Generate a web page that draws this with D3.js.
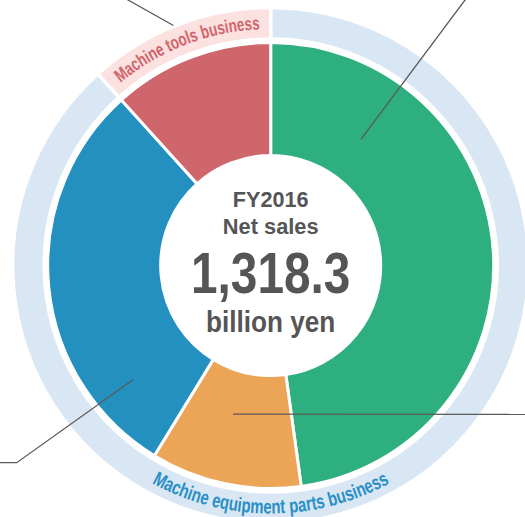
<!DOCTYPE html>
<html>
<head>
<meta charset="utf-8">
<script src="https://cdn.jsdelivr.net/npm/d3@7"></script>
<style>
  body { margin: 0; background: #fff; }
  text { font-family: "Liberation Sans Narrow", "Arial Narrow", sans-serif; font-weight: bold; }
</style>
</head>
<body>
<svg id="donut_svg"></svg>
<script>
// segments of the donut, clockwise from 12 o'clock (billion yen)
const segments = ["Steering", "Driveline", "Bearings", "Machine tools"];
const segmentValues = [630.3, 144.0, 390.0, 154.0];
const segmentColors = ["#2daf7f", "#eca557", "#2390c0", "#cf666b"];

// outer ring = business groups
const groups = ["Machine equipment parts business", "Machine tools business"];
const groupMembers = [[0, 1, 2], [3]];
const groupFill = ["#d9e7f4", "#fbe1e0"];
const groupText = ["#2a8fc6", "#d2646c"];

const centerLines = ["FY2016", "Net sales", "1,318.3", "billion yen"];

const width = 525, height = 517;
const cx = 270.7, cy = 265.5;

const svg = d3.select("#donut_svg")
    .attr("width", width)
    .attr("height", height)
  .append("g")
    .attr("transform", `translate(${cx},${cy})`);

const pie = d3.pie().sort(null).value(d => d.value);

const segData = segments.map((s, i) => ({name: s, value: segmentValues[i], color: segmentColors[i]}));
const groupData = groups.map((g, i) => ({
  name: g,
  value: d3.sum(groupMembers[i], j => segmentValues[j]),
  fill: groupFill[i],
  text: groupText[i]
}));

const arc = d3.arc().innerRadius(110).outerRadius(223);
const ringArc = d3.arc().innerRadius(226.5).outerRadius(258);

// outer ring
const ringArcs = pie(groupData);
svg.append("g")
  .selectAll("path")
  .data(ringArcs)
  .join("path")
    .attr("d", ringArc)
    .attr("fill", d => d.data.fill)
    .attr("stroke", "#fff")
    .attr("stroke-width", 3.4);

// donut
const segArcs = pie(segData);
svg.append("g")
  .selectAll("path")
  .data(segArcs)
  .join("path")
    .attr("d", arc)
    .attr("fill", d => d.data.color)
    .attr("stroke", "#fff")
    .attr("stroke-width", 3);

// polar helper, angle measured clockwise from top
const pt = (a, r) => [r * Math.sin(a), -r * Math.cos(a)];

// curved group labels: the big group's label sits at the bottom, the small one in its own arc
const defs = svg.append("defs");
ringArcs.forEach((d, i) => {
  const bottom = i === 0;
  const mid = bottom ? Math.PI : (d.startAngle + d.endAngle) / 2;
  const half = 0.8;
  const r = bottom ? 248 : 236.5;
  let p;
  if (bottom) {
    const a = pt(mid + half, r), b = pt(mid - half, r);
    p = `M${a}A${r},${r} 0 0 0 ${b}`;
  } else {
    const a = pt(mid - half, r), b = pt(mid + half, r);
    p = `M${a}A${r},${r} 0 0 1 ${b}`;
  }
  defs.append("path").attr("id", "grp" + i).attr("d", p);
  svg.append("text")
      .attr("fill", d.data.text)
      .style("font-size", bottom ? "20px" : "18.5px")
    .append("textPath")
      .attr("href", "#grp" + i)
      .attr("startOffset", "50%")
      .attr("text-anchor", "middle")
      .attr("textLength", bottom ? 248 : 152)
      .attr("lengthAdjust", "spacingAndGlyphs")
      .text(d.data.name);
});

// leader lines (label text sits outside the picture)
// start: [segment index, angle offset from segment start (deg), radius], then bends relative to centre
const leaders = [
  {seg: 0, angle: 35.6, r: 155, to: [[194.3, -265.5], [240, -327]]},
  {seg: 1, angle: 22.1, r: 153.4, to: [[260, 148.8]]},
  {seg: 2, angle: 18.9, r: 178.9, to: [[-254, 197.2], [-275, 197.2]]},
  {seg: 3, angle: 20.0, r: 259, to: [[-142.7, -265.5], [-175, -284]]}
];
const line = d3.line();
svg.append("g")
  .selectAll("path")
  .data(leaders)
  .join("path")
    .attr("d", d => {
      const a = segArcs[d.seg].startAngle + d.angle * Math.PI / 180;
      return line([pt(a, d.r), ...d.to]);
    })
    .attr("fill", "none")
    .attr("stroke", "#5a5a5a")
    .attr("stroke-width", 1.3);

// centre text
const centerSpec = [
  {y: -58.2, size: 22, len: 75.7},
  {y: -31.2, size: 22, len: 95.7},
  {y: 27.8, size: 57, len: 159.3},
  {y: 66.8, size: 30, len: 129.3}
];
svg.append("g")
  .selectAll("text")
  .data(centerLines)
  .join("text")
    .attr("x", 0)
    .attr("y", (d, i) => centerSpec[i].y)
    .attr("text-anchor", "middle")
    .attr("fill", "#555557")
    .style("font-size", (d, i) => centerSpec[i].size + "px")
    .attr("textLength", (d, i) => centerSpec[i].len)
    .attr("lengthAdjust", "spacingAndGlyphs")
    .text(d => d);
</script>
</body>
</html>
